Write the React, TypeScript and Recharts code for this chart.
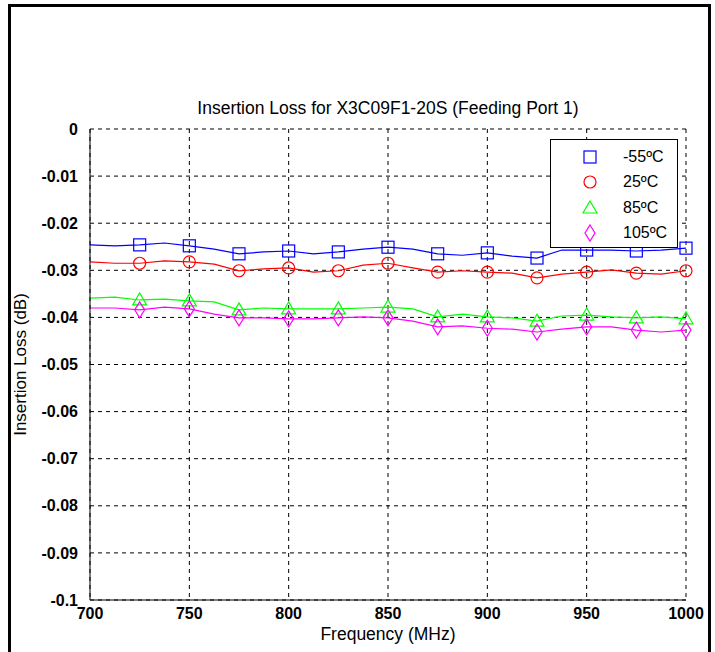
import { LineChart, Line, XAxis, YAxis, CartesianGrid } from "recharts";

const freqs = [
  700, 712.5, 725, 737.5, 750, 762.5, 775, 787.5, 800, 812.5, 825, 837.5, 850,
  862.5, 875, 887.5, 900, 912.5, 925, 937.5, 950, 962.5, 975, 987.5, 1000,
];

const minus55 = [
  -0.0246, -0.0248, -0.0246, -0.0242, -0.0248, -0.0255, -0.0265, -0.0261, -0.0259,
  -0.0265, -0.0261, -0.0255, -0.0251, -0.0255, -0.0265, -0.0268, -0.0263, -0.027,
  -0.0274, -0.0257, -0.0257, -0.0257, -0.0259, -0.0257, -0.0253,
];
const plus25 = [
  -0.0282, -0.0285, -0.0285, -0.028, -0.0282, -0.0287, -0.0301, -0.0297, -0.0295,
  -0.0304, -0.0301, -0.0289, -0.0285, -0.0295, -0.0304, -0.0301, -0.0304, -0.0306,
  -0.0316, -0.0308, -0.0304, -0.0299, -0.0306, -0.0308, -0.0301,
];
const plus85 = [
  -0.0359, -0.0357, -0.0363, -0.0361, -0.0365, -0.0367, -0.0384, -0.038, -0.0382,
  -0.0382, -0.0382, -0.038, -0.0378, -0.0382, -0.0399, -0.0393, -0.0399, -0.0401,
  -0.0408, -0.0397, -0.0395, -0.0399, -0.0401, -0.0399, -0.0403,
];
const plus105 = [
  -0.038, -0.038, -0.0384, -0.0378, -0.0382, -0.0393, -0.0401, -0.0401, -0.0403,
  -0.0403, -0.0401, -0.0399, -0.0401, -0.0408, -0.042, -0.0418, -0.0423, -0.0425,
  -0.0431, -0.0425, -0.042, -0.042, -0.0427, -0.0431, -0.0427,
];

const xTicks = [700, 750, 800, 850, 900, 950, 1000];
const yTicks = [0, -0.01, -0.02, -0.03, -0.04, -0.05, -0.06, -0.07, -0.08, -0.09, -0.1];

const seriesList = [
  { key: "m55", name: "-55ºC", color: "#0000ff", shape: "square", values: minus55 },
  { key: "p25", name: "25ºC", color: "#ff0000", shape: "circle", values: plus25 },
  { key: "p85", name: "85ºC", color: "#00ff00", shape: "triangle", values: plus85 },
  { key: "p105", name: "105ºC", color: "#ff00ff", shape: "diamond", values: plus105 },
];

const data = freqs.map((f, i) => {
  const row: Record<string, number> = { freq: f };
  seriesList.forEach((s) => (row[s.key] = s.values[i]));
  return row;
});

const FONT = "'Liberation Sans', Arial, sans-serif";

function Marker({ shape, color, cx, cy }: { shape: string; color: string; cx: number; cy: number }) {
  const p = { fill: "none", stroke: color, strokeWidth: 1.2 };
  if (shape === "square") return <rect x={cx - 6} y={cy - 6} width={12} height={12} {...p} />;
  if (shape === "circle") return <circle cx={cx} cy={cy} r={6} {...p} />;
  if (shape === "triangle")
    return <polygon points={`${cx},${cy - 7} ${cx + 7},${cy + 5} ${cx - 7},${cy + 5}`} {...p} />;
  return <polygon points={`${cx},${cy - 8} ${cx + 5},${cy} ${cx},${cy + 8} ${cx - 5},${cy}`} {...p} />;
}

function makeDot(shape: string, color: string) {
  return (props: any) => {
    const { cx, cy, payload, index } = props;
    if (payload.freq === 700 || payload.freq % 25 !== 0) return <g key={index} />;
    return (
      <g key={index}>
        <Marker shape={shape} color={color} cx={cx} cy={cy} />
      </g>
    );
  };
}

function LegendBox() {
  return (
    <div
      style={{
        position: "absolute",
        left: 550,
        top: 139,
        width: 128,
        height: 109,
        border: "1px solid #000",
        background: "#fff",
        boxSizing: "border-box",
        padding: "4px 0",
        fontFamily: FONT,
        fontSize: 16,
      }}
    >
      {seriesList.map((s) => (
        <div key={s.key} style={{ display: "flex", alignItems: "center", height: 25.5 }}>
          <svg width={72} height={20}>
            <Marker shape={s.shape} color={s.color} cx={39} cy={10} />
          </svg>
          <span>{s.name}</span>
        </div>
      ))}
    </div>
  );
}

const tickStyle = { fill: "#000", fontFamily: FONT, fontSize: 16, fontWeight: "bold" };

export default function App() {
  return (
    <div style={{ position: "absolute", left: 0, top: 0, width: 715, height: 652, background: "#fff", overflow: "hidden" }}>
      <div
        style={{
          position: "absolute",
          left: 8,
          top: 4,
          width: 697,
          height: 660,
          borderLeft: "3px solid #000",
          borderTop: "3px solid #000",
          borderRight: "3px solid #000",
        }}
      />
      <div
        style={{
          position: "absolute",
          left: 90,
          width: 596,
          top: 98,
          textAlign: "center",
          fontFamily: FONT,
          fontSize: 17.5,
          color: "#000",
        }}
      >
        Insertion Loss for X3C09F1-20S (Feeding Port 1)
      </div>
      <LineChart
        width={715}
        height={652}
        data={data}
        margin={{ top: 129, right: 29, left: 30, bottom: 22 }}
        style={{ position: "absolute", left: 0, top: 0 }}
      >
        <CartesianGrid stroke="#000" strokeDasharray="4 4" strokeWidth={1} />
        <XAxis
          dataKey="freq"
          type="number"
          domain={[700, 1000]}
          ticks={xTicks}
          interval={0}
          height={30}
          axisLine={{ stroke: "#000" }}
          tickLine={false}
          tickMargin={2}
          tick={tickStyle}
          label={{
            value: "Frequency (MHz)",
            position: "bottom",
            offset: -2,
            fill: "#000",
            fontFamily: FONT,
            fontSize: 17.5,
          }}
        />
        <XAxis xAxisId="top" dataKey="freq" type="number" domain={[700, 1000]} orientation="top" height={0} tick={false} tickLine={false} axisLine={{ stroke: "#000" }} />
        <YAxis
          type="number"
          domain={[-0.1, 0]}
          ticks={yTicks}
          interval={0}
          width={60}
          axisLine={{ stroke: "#000" }}
          tickLine={false}
          tickMargin={6}
          tick={tickStyle}
          label={{
            value: "Insertion Loss (dB)",
            angle: -90,
            position: "insideLeft",
            offset: -10,
            style: { textAnchor: "middle" },
            fill: "#000",
            fontFamily: FONT,
            fontSize: 17,
          }}
        />
        <YAxis yAxisId="right" orientation="right" type="number" domain={[-0.1, 0]} width={0} tick={false} tickLine={false} axisLine={{ stroke: "#000" }} />
        {seriesList.map((s) => (
          <Line
            key={s.key}
            dataKey={s.key}
            name={s.name}
            type="linear"
            stroke={s.color}
            strokeWidth={1.2}
            dot={makeDot(s.shape, s.color)}
            activeDot={false}
            isAnimationActive={false}
          />
        ))}
      </LineChart>
      <LegendBox />
    </div>
  );
}
